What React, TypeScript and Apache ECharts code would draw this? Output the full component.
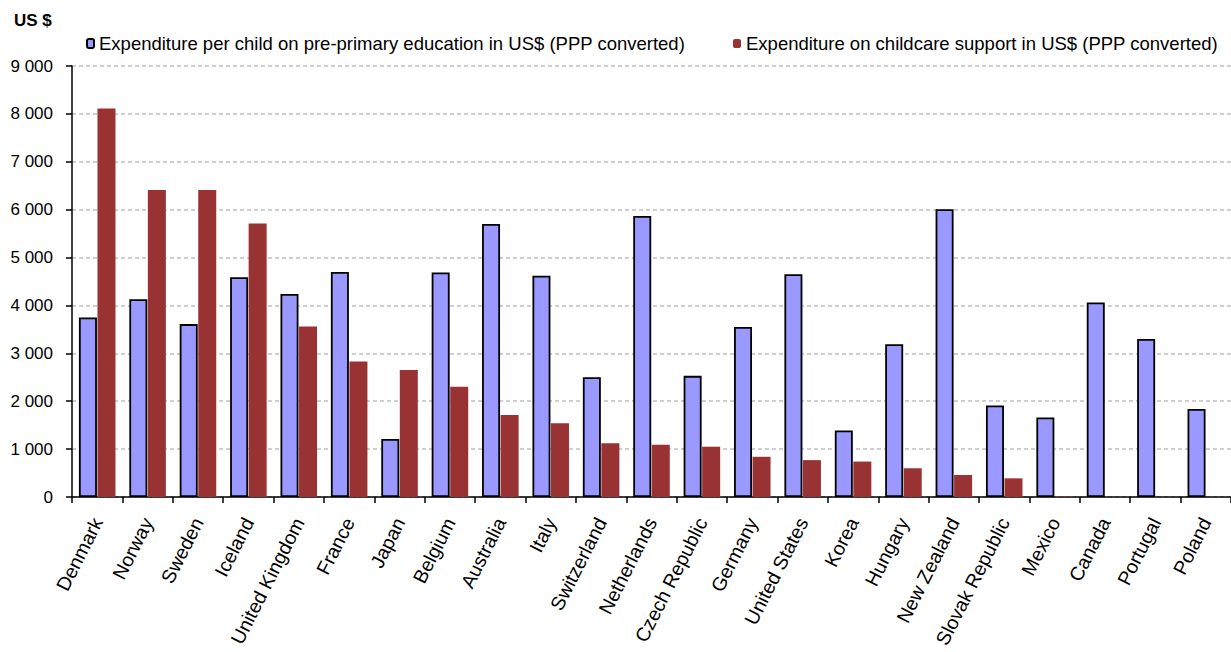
import React, { useEffect, useRef } from "react";
import * as echarts from "echarts";

const countries = [
  "Denmark", "Norway", "Sweden", "Iceland", "United Kingdom", "France", "Japan",
  "Belgium", "Australia", "Italy", "Switzerland", "Netherlands", "Czech Republic",
  "Germany", "United States", "Korea", "Hungary", "New Zealand", "Slovak Republic",
  "Mexico", "Canada", "Portugal", "Poland",
];

const prePrimary = [
  3750, 4130, 3610, 4590, 4240, 4700, 1210, 4690, 5700, 4620, 2500, 5870, 2530,
  3550, 4650, 1390, 3190, 6010, 1910, 1660, 4060, 3300, 1840,
];

const childcare: (number | null)[] = [
  8110, 6410, 6410, 5710, 3560, 2830, 2650, 2300, 1710, 1540, 1120, 1090, 1050,
  840, 770, 740, 600, 460, 390, 10, null, null, null,
];

const yTicks = { min: 0, max: 9000, interval: 1000 };

const seriesNames = [
  "Expenditure per child on pre-primary education in US$ (PPP converted)",
  "Expenditure on childcare support in US$ (PPP converted)",
];

const FONT = "'Liberation Sans', Arial, sans-serif";

export default function App() {
  const ref = useRef<HTMLDivElement>(null);

  useEffect(() => {
    document.body.style.margin = "0";
    if (!ref.current) return;
    const chart = echarts.init(ref.current, undefined, { renderer: "svg" });
    chart.setOption({
      animation: false,
      backgroundColor: "#ffffff",
      textStyle: { fontFamily: FONT, color: "#000" },
      graphic: [
        {
          type: "text",
          left: 14,
          top: 12,
          style: { text: "US $", font: `bold 17px ${FONT}`, fill: "#000" },
        },
      ],
      legend: [
        {
          data: [seriesNames[0]],
          left: 81,
          top: 29,
          itemWidth: 7,
          itemHeight: 9,
          itemGap: 0,
          textStyle: { fontSize: 18.5, color: "#000", fontFamily: FONT },
        },
        {
          data: [seriesNames[1]],
          left: 728,
          top: 29,
          itemWidth: 8,
          itemHeight: 9,
          textStyle: { fontSize: 18.5, color: "#000", fontFamily: FONT },
        },
      ],
      grid: { left: 72, right: 0, top: 66, bottom: 155, containLabel: false },
      xAxis: {
        type: "category",
        data: countries,
        boundaryGap: true,
        axisLine: { lineStyle: { color: "#000", width: 1.5 } },
        axisTick: { show: true, alignWithLabel: false, length: 6, lineStyle: { color: "#000", width: 1.5 } },
        axisLabel: {
          interval: 0,
          rotate: 63,
          fontSize: 19.5,
          color: "#000",
          margin: 22,
          fontFamily: FONT,
        },
      },
      yAxis: {
        type: "value",
        min: yTicks.min,
        max: yTicks.max,
        interval: yTicks.interval,
        axisLine: { show: true, lineStyle: { color: "#000", width: 1.5 } },
        axisTick: { show: true, length: 6, lineStyle: { color: "#000", width: 1.5 } },
        axisLabel: {
          fontSize: 17,
          color: "#000",
          margin: 19,
          fontFamily: FONT,
          formatter: (v: number) => String(v).replace(/\B(?=(\d{3})+(?!\d))/g, " "),
        },
        splitLine: { show: true, lineStyle: { color: "#c0c0c0", type: [4, 3], width: 1.5 } },
      },
      series: [
        {
          name: seriesNames[0],
          type: "bar",
          data: prePrimary,
          barWidth: 18,
          barGap: "3%",
          itemStyle: { color: "#9999ff", borderColor: "#000", borderWidth: 1.8 },
        },
        {
          name: seriesNames[1],
          type: "bar",
          data: childcare,
          barWidth: 18,
          itemStyle: { color: "#993333" },
        },
      ],
    });
    return () => chart.dispose();
  }, []);

  return <div ref={ref} style={{ width: 1231, height: 652 }} />;
}
